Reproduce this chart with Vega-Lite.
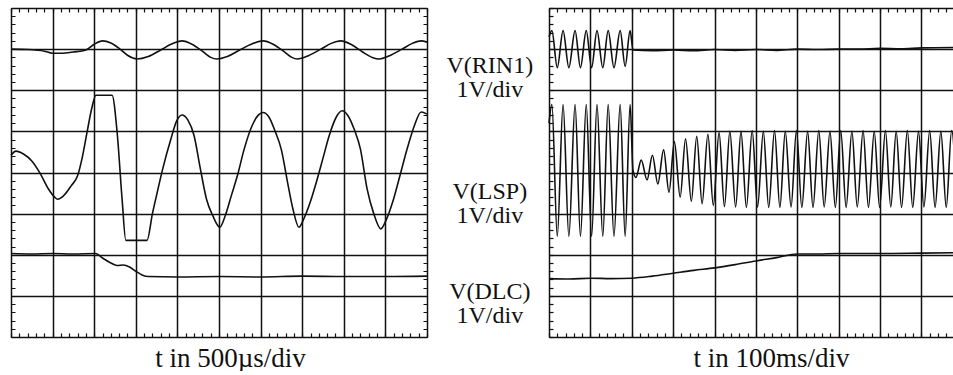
{
  "$schema": "https://vega.github.io/schema/vega-lite/v6.json",
  "usermeta": {"embedOptions": {"actions": false}},
  "background": "white",
  "padding": {"left": 7, "top": 8, "right": 0, "bottom": 0},
  "autosize": {"type": "pad"},
  "spacing": 122,
  "bounds": "flush",
  "config": {
    "view": {"stroke": null},
    "axis": {"labels": false, "ticks": false, "domain": false, "gridColor": "#111", "gridOpacity": 1, "gridWidth": 1.5, "title": null}
  },
  "datasets": {
    "left": [
      {"s": "RIN1", "x": 0, "y": 7.0}, {"s": "RIN1", "x": 0.4, "y": 6.99}, {"s": "RIN1", "x": 0.8, "y": 6.95}, {"s": "RIN1", "x": 1.0, "y": 6.9}, {"s": "RIN1", "x": 1.2, "y": 6.9}, {"s": "RIN1", "x": 1.5, "y": 6.93}, {"s": "RIN1", "x": 1.8, "y": 6.98}, {"s": "RIN1", "x": 2.0, "y": 7.12}, {"s": "RIN1", "x": 2.2, "y": 7.2}, {"s": "RIN1", "x": 2.4, "y": 7.15}, {"s": "RIN1", "x": 2.6, "y": 7.02}, {"s": "RIN1", "x": 2.8, "y": 6.85}, {"s": "RIN1", "x": 3.03, "y": 6.76}, {"s": "RIN1", "x": 3.3, "y": 6.82}, {"s": "RIN1", "x": 3.6, "y": 6.98}, {"s": "RIN1", "x": 3.9, "y": 7.14}, {"s": "RIN1", "x": 4.11, "y": 7.2}, {"s": "RIN1", "x": 4.35, "y": 7.12}, {"s": "RIN1", "x": 4.6, "y": 6.95}, {"s": "RIN1", "x": 4.8, "y": 6.8}, {"s": "RIN1", "x": 4.95, "y": 6.76}, {"s": "RIN1", "x": 5.2, "y": 6.82}, {"s": "RIN1", "x": 5.5, "y": 6.98}, {"s": "RIN1", "x": 5.8, "y": 7.13}, {"s": "RIN1", "x": 6.06, "y": 7.2}, {"s": "RIN1", "x": 6.3, "y": 7.12}, {"s": "RIN1", "x": 6.55, "y": 6.95}, {"s": "RIN1", "x": 6.75, "y": 6.8}, {"s": "RIN1", "x": 6.88, "y": 6.76}, {"s": "RIN1", "x": 7.15, "y": 6.84}, {"s": "RIN1", "x": 7.45, "y": 7.0}, {"s": "RIN1", "x": 7.7, "y": 7.14}, {"s": "RIN1", "x": 7.93, "y": 7.2}, {"s": "RIN1", "x": 8.2, "y": 7.1}, {"s": "RIN1", "x": 8.45, "y": 6.93}, {"s": "RIN1", "x": 8.7, "y": 6.79}, {"s": "RIN1", "x": 8.85, "y": 6.76}, {"s": "RIN1", "x": 9.1, "y": 6.84}, {"s": "RIN1", "x": 9.4, "y": 7.0}, {"s": "RIN1", "x": 9.65, "y": 7.14}, {"s": "RIN1", "x": 9.86, "y": 7.2}, {"s": "RIN1", "x": 10, "y": 7.17},
      {"s": "LSP", "x": 0.0, "y": 4.42}, {"s": "LSP", "x": 0.12, "y": 4.52}, {"s": "LSP", "x": 0.3, "y": 4.45}, {"s": "LSP", "x": 0.5, "y": 4.28}, {"s": "LSP", "x": 0.7, "y": 3.98}, {"s": "LSP", "x": 0.9, "y": 3.6}, {"s": "LSP", "x": 1.05, "y": 3.4}, {"s": "LSP", "x": 1.12, "y": 3.35}, {"s": "LSP", "x": 1.25, "y": 3.42}, {"s": "LSP", "x": 1.45, "y": 3.68}, {"s": "LSP", "x": 1.6, "y": 3.92}, {"s": "LSP", "x": 1.72, "y": 4.4}, {"s": "LSP", "x": 1.83, "y": 4.99}, {"s": "LSP", "x": 1.95, "y": 5.6}, {"s": "LSP", "x": 2.04, "y": 5.88}, {"s": "LSP", "x": 2.43, "y": 5.88}, {"s": "LSP", "x": 2.55, "y": 4.99}, {"s": "LSP", "x": 2.67, "y": 3.36}, {"s": "LSP", "x": 2.76, "y": 2.35}, {"s": "LSP", "x": 3.27, "y": 2.35}, {"s": "LSP", "x": 3.4, "y": 3.0}, {"s": "LSP", "x": 3.5, "y": 3.45}, {"s": "LSP", "x": 3.65, "y": 4.1}, {"s": "LSP", "x": 3.84, "y": 4.8}, {"s": "LSP", "x": 3.98, "y": 5.25}, {"s": "LSP", "x": 4.11, "y": 5.4}, {"s": "LSP", "x": 4.25, "y": 5.28}, {"s": "LSP", "x": 4.4, "y": 4.9}, {"s": "LSP", "x": 4.55, "y": 4.1}, {"s": "LSP", "x": 4.7, "y": 3.35}, {"s": "LSP", "x": 4.85, "y": 2.95}, {"s": "LSP", "x": 5.02, "y": 2.67}, {"s": "LSP", "x": 5.15, "y": 2.95}, {"s": "LSP", "x": 5.3, "y": 3.45}, {"s": "LSP", "x": 5.45, "y": 3.95}, {"s": "LSP", "x": 5.6, "y": 4.55}, {"s": "LSP", "x": 5.8, "y": 5.15}, {"s": "LSP", "x": 5.95, "y": 5.4}, {"s": "LSP", "x": 6.06, "y": 5.46}, {"s": "LSP", "x": 6.2, "y": 5.35}, {"s": "LSP", "x": 6.35, "y": 5.0}, {"s": "LSP", "x": 6.5, "y": 4.55}, {"s": "LSP", "x": 6.65, "y": 3.75}, {"s": "LSP", "x": 6.78, "y": 3.1}, {"s": "LSP", "x": 6.92, "y": 2.67}, {"s": "LSP", "x": 7.05, "y": 2.9}, {"s": "LSP", "x": 7.2, "y": 3.3}, {"s": "LSP", "x": 7.35, "y": 3.8}, {"s": "LSP", "x": 7.5, "y": 4.35}, {"s": "LSP", "x": 7.65, "y": 4.9}, {"s": "LSP", "x": 7.82, "y": 5.35}, {"s": "LSP", "x": 7.96, "y": 5.5}, {"s": "LSP", "x": 8.1, "y": 5.38}, {"s": "LSP", "x": 8.25, "y": 5.05}, {"s": "LSP", "x": 8.4, "y": 4.57}, {"s": "LSP", "x": 8.56, "y": 3.6}, {"s": "LSP", "x": 8.72, "y": 3.0}, {"s": "LSP", "x": 8.89, "y": 2.63}, {"s": "LSP", "x": 9.02, "y": 2.85}, {"s": "LSP", "x": 9.18, "y": 3.3}, {"s": "LSP", "x": 9.33, "y": 3.85}, {"s": "LSP", "x": 9.53, "y": 4.6}, {"s": "LSP", "x": 9.7, "y": 5.15}, {"s": "LSP", "x": 9.86, "y": 5.47}, {"s": "LSP", "x": 10.0, "y": 5.42},
      {"s": "DLC", "x": 0, "y": 2.03}, {"s": "DLC", "x": 0.5, "y": 2.02}, {"s": "DLC", "x": 1.0, "y": 2.03}, {"s": "DLC", "x": 1.5, "y": 2.02}, {"s": "DLC", "x": 2.04, "y": 2.03}, {"s": "DLC", "x": 2.2, "y": 1.92}, {"s": "DLC", "x": 2.4, "y": 1.8}, {"s": "DLC", "x": 2.55, "y": 1.74}, {"s": "DLC", "x": 2.7, "y": 1.75}, {"s": "DLC", "x": 2.85, "y": 1.7}, {"s": "DLC", "x": 3.0, "y": 1.6}, {"s": "DLC", "x": 3.15, "y": 1.51}, {"s": "DLC", "x": 3.3, "y": 1.47}, {"s": "DLC", "x": 4, "y": 1.46}, {"s": "DLC", "x": 5, "y": 1.47}, {"s": "DLC", "x": 6, "y": 1.46}, {"s": "DLC", "x": 7, "y": 1.48}, {"s": "DLC", "x": 8, "y": 1.47}, {"s": "DLC", "x": 9, "y": 1.47}, {"s": "DLC", "x": 10, "y": 1.48}
    ],
    "right": [
      {"s": "RIN1", "x": 0, "y": 7.3}, {"s": "RIN1", "x": 0.07, "y": 7.45}, {"s": "RIN1", "x": 0.2, "y": 6.55}, {"s": "RIN1", "x": 0.34, "y": 7.45}, {"s": "RIN1", "x": 0.48, "y": 6.55}, {"s": "RIN1", "x": 0.63, "y": 7.45}, {"s": "RIN1", "x": 0.76, "y": 6.55}, {"s": "RIN1", "x": 0.9, "y": 7.45}, {"s": "RIN1", "x": 1.03, "y": 6.55}, {"s": "RIN1", "x": 1.16, "y": 7.45}, {"s": "RIN1", "x": 1.3, "y": 6.55}, {"s": "RIN1", "x": 1.43, "y": 7.45}, {"s": "RIN1", "x": 1.57, "y": 6.55}, {"s": "RIN1", "x": 1.72, "y": 7.45}, {"s": "RIN1", "x": 1.84, "y": 6.58}, {"s": "RIN1", "x": 1.96, "y": 7.45}, {"s": "RIN1", "x": 2.03, "y": 6.98}, {"s": "RIN1", "x": 2.5, "y": 6.96}, {"s": "RIN1", "x": 3, "y": 6.98}, {"s": "RIN1", "x": 3.5, "y": 6.96}, {"s": "RIN1", "x": 4, "y": 6.99}, {"s": "RIN1", "x": 4.5, "y": 6.97}, {"s": "RIN1", "x": 5, "y": 6.99}, {"s": "RIN1", "x": 5.5, "y": 6.97}, {"s": "RIN1", "x": 6, "y": 7.0}, {"s": "RIN1", "x": 6.5, "y": 6.99}, {"s": "RIN1", "x": 7, "y": 7.0}, {"s": "RIN1", "x": 7.5, "y": 7.0}, {"s": "RIN1", "x": 8, "y": 7.02}, {"s": "RIN1", "x": 8.5, "y": 7.01}, {"s": "RIN1", "x": 9, "y": 7.03}, {"s": "RIN1", "x": 9.86, "y": 7.04},
      {"s": "LSP", "x": 0, "y": 5.2}, {"s": "LSP", "x": 0.07, "y": 5.65}, {"s": "LSP", "x": 0.2, "y": 2.45}, {"s": "LSP", "x": 0.34, "y": 5.65}, {"s": "LSP", "x": 0.48, "y": 2.45}, {"s": "LSP", "x": 0.63, "y": 5.65}, {"s": "LSP", "x": 0.76, "y": 2.45}, {"s": "LSP", "x": 0.9, "y": 5.65}, {"s": "LSP", "x": 1.03, "y": 2.45}, {"s": "LSP", "x": 1.16, "y": 5.65}, {"s": "LSP", "x": 1.3, "y": 2.45}, {"s": "LSP", "x": 1.43, "y": 5.65}, {"s": "LSP", "x": 1.57, "y": 2.45}, {"s": "LSP", "x": 1.72, "y": 5.65}, {"s": "LSP", "x": 1.84, "y": 2.45}, {"s": "LSP", "x": 1.96, "y": 5.65}, {"s": "LSP", "x": 2.03, "y": 4.05},
      {"s": "LSP", "x": 2.1, "y": 3.88}, {"s": "LSP", "x": 2.23, "y": 4.3}, {"s": "LSP", "x": 2.37, "y": 3.82}, {"s": "LSP", "x": 2.5, "y": 4.42}, {"s": "LSP", "x": 2.63, "y": 3.72}, {"s": "LSP", "x": 2.77, "y": 4.55}, {"s": "LSP", "x": 2.9, "y": 3.52}, {"s": "LSP", "x": 3.03, "y": 4.75}, {"s": "LSP", "x": 3.17, "y": 3.4}, {"s": "LSP", "x": 3.3, "y": 4.82}, {"s": "LSP", "x": 3.44, "y": 3.3}, {"s": "LSP", "x": 3.57, "y": 4.88}, {"s": "LSP", "x": 3.7, "y": 3.24}, {"s": "LSP", "x": 3.84, "y": 4.93}, {"s": "LSP", "x": 3.97, "y": 3.2}, {"s": "LSP", "x": 4.11, "y": 4.97}, {"s": "LSP", "x": 4.24, "y": 3.17}, {"s": "LSP", "x": 4.37, "y": 5.0}, {"s": "LSP", "x": 4.51, "y": 3.16}, {"s": "LSP", "x": 4.64, "y": 5.0}, {"s": "LSP", "x": 4.77, "y": 3.15}, {"s": "LSP", "x": 4.91, "y": 5.02}, {"s": "LSP", "x": 5.04, "y": 3.16}, {"s": "LSP", "x": 5.18, "y": 5.0}, {"s": "LSP", "x": 5.31, "y": 3.15}, {"s": "LSP", "x": 5.45, "y": 5.02}, {"s": "LSP", "x": 5.58, "y": 3.15}, {"s": "LSP", "x": 5.71, "y": 5.0}, {"s": "LSP", "x": 5.85, "y": 3.16}, {"s": "LSP", "x": 5.98, "y": 5.02}, {"s": "LSP", "x": 6.11, "y": 3.15}, {"s": "LSP", "x": 6.25, "y": 5.0}, {"s": "LSP", "x": 6.38, "y": 3.15}, {"s": "LSP", "x": 6.52, "y": 5.02}, {"s": "LSP", "x": 6.65, "y": 3.16}, {"s": "LSP", "x": 6.79, "y": 5.0}, {"s": "LSP", "x": 6.92, "y": 3.15}, {"s": "LSP", "x": 7.05, "y": 5.02}, {"s": "LSP", "x": 7.18, "y": 3.15}, {"s": "LSP", "x": 7.32, "y": 5.0}, {"s": "LSP", "x": 7.45, "y": 3.16}, {"s": "LSP", "x": 7.59, "y": 5.02}, {"s": "LSP", "x": 7.72, "y": 3.15}, {"s": "LSP", "x": 7.86, "y": 5.0}, {"s": "LSP", "x": 7.99, "y": 3.15}, {"s": "LSP", "x": 8.13, "y": 5.02}, {"s": "LSP", "x": 8.26, "y": 3.16}, {"s": "LSP", "x": 8.39, "y": 5.0}, {"s": "LSP", "x": 8.52, "y": 3.15}, {"s": "LSP", "x": 8.66, "y": 5.02}, {"s": "LSP", "x": 8.79, "y": 3.15}, {"s": "LSP", "x": 8.93, "y": 5.0}, {"s": "LSP", "x": 9.06, "y": 3.16}, {"s": "LSP", "x": 9.2, "y": 5.02}, {"s": "LSP", "x": 9.33, "y": 3.15}, {"s": "LSP", "x": 9.47, "y": 5.0}, {"s": "LSP", "x": 9.6, "y": 3.15}, {"s": "LSP", "x": 9.73, "y": 5.02}, {"s": "LSP", "x": 9.86, "y": 3.2},
      {"s": "DLC", "x": 0, "y": 1.42}, {"s": "DLC", "x": 0.5, "y": 1.41}, {"s": "DLC", "x": 1.0, "y": 1.43}, {"s": "DLC", "x": 1.5, "y": 1.42}, {"s": "DLC", "x": 2.0, "y": 1.43}, {"s": "DLC", "x": 2.5, "y": 1.48}, {"s": "DLC", "x": 3.0, "y": 1.55}, {"s": "DLC", "x": 3.5, "y": 1.62}, {"s": "DLC", "x": 4.0, "y": 1.68}, {"s": "DLC", "x": 4.5, "y": 1.76}, {"s": "DLC", "x": 5.0, "y": 1.85}, {"s": "DLC", "x": 5.5, "y": 1.93}, {"s": "DLC", "x": 6.0, "y": 2.02}, {"s": "DLC", "x": 6.5, "y": 2.02}, {"s": "DLC", "x": 7, "y": 2.03}, {"s": "DLC", "x": 8, "y": 2.03}, {"s": "DLC", "x": 9, "y": 2.04}, {"s": "DLC", "x": 9.86, "y": 2.05}
    ],
    "labels": [
      {"t": "V(RIN1)\n1V/div", "x": -1.43, "y": 6.42},
      {"t": "V(LSP)\n1V/div", "x": -1.43, "y": 3.36},
      {"t": "V(DLC)\n1V/div", "x": -1.43, "y": 0.92}
    ]
  },
  "hconcat": [
    {
      "width": 416,
      "height": 329,
      "resolve": {"axis": {"x": "independent", "y": "independent"}},
      "layer": [
        {
          "data": {"name": "left"},
          "mark": {"type": "line", "interpolate": "monotone", "color": "#111", "strokeWidth": 1.6},
          "encoding": {
            "x": {"field": "x", "type": "quantitative", "scale": {"domain": [0, 10], "nice": false, "zero": false},
                  "axis": {"orient": "bottom", "values": [0,1,2,3,4,5,6,7,8,9,10], "grid": true, "title": "t in 500µs/div",
                           "titleFont": "Liberation Serif", "titleFontSize": 27, "titleFontWeight": "normal", "titleColor": "#111",
                           "titleBaseline": "alphabetic", "titlePadding": 29, "titleX": 219, "titleAlign": "center"}},
            "y": {"field": "y", "type": "quantitative", "scale": {"domain": [0, 8], "nice": false, "zero": false},
                  "axis": {"orient": "right", "values": [0,1,2,3,4,5,6,7,8], "grid": true}},
            "detail": {"field": "s", "type": "nominal"}
          }
        },
        {
          "data": {"name": "left"},
          "mark": {"type": "point", "opacity": 0},
          "encoding": {
            "x": {"field": "x", "type": "quantitative", "scale": {"domain": [0, 10], "nice": false, "zero": false},
                  "axis": {"orient": "top", "grid": true, "gridDash": [4, 321], "gridWidth": 1.2,
                           "values": [0,0.2,0.4,0.6,0.8,1,1.2,1.4,1.6,1.8,2,2.2,2.4,2.6,2.8,3,3.2,3.4,3.6,3.8,4,4.2,4.4,4.6,4.8,5,5.2,5.4,5.6,5.8,6,6.2,6.4,6.6,6.8,7,7.2,7.4,7.6,7.8,8,8.2,8.4,8.6,8.8,9,9.2,9.4,9.6,9.8,10]}},
            "y": {"field": "y", "type": "quantitative", "scale": {"domain": [0, 8], "nice": false, "zero": false},
                  "axis": {"orient": "left", "grid": true, "gridDash": [4, 408], "gridWidth": 1.2,
                           "values": [0,0.2,0.4,0.6,0.8,1,1.2,1.4,1.6,1.8,2,2.2,2.4,2.6,2.8,3,3.2,3.4,3.6,3.8,4,4.2,4.4,4.6,4.8,5,5.2,5.4,5.6,5.8,6,6.2,6.4,6.6,6.8,7,7.2,7.4,7.6,7.8,8]}}
          }
        }
      ]
    },
    {
      "width": 408,
      "height": 329,
      "resolve": {"axis": {"x": "independent", "y": "independent"}},
      "layer": [
        {
          "data": {"name": "right"},
          "mark": {"type": "line", "interpolate": "monotone", "color": "#111", "strokeWidth": 1.6},
          "encoding": {
            "x": {"field": "x", "type": "quantitative", "scale": {"domain": [0, 9.86], "nice": false, "zero": false},
                  "axis": {"orient": "bottom", "values": [0,1,2,3,4,5,6,7,8,9], "grid": true, "title": "t in 100ms/div",
                           "titleFont": "Liberation Serif", "titleFontSize": 27, "titleFontWeight": "normal", "titleColor": "#111",
                           "titleBaseline": "alphabetic", "titlePadding": 29, "titleX": 222, "titleAlign": "center"}},
            "y": {"field": "y", "type": "quantitative", "scale": {"domain": [0, 8], "nice": false, "zero": false},
                  "axis": {"orient": "right", "values": [0,1,2,3,4,5,6,7,8], "grid": true}},
            "detail": {"field": "s", "type": "nominal"}
          }
        },
        {
          "data": {"name": "labels"},
          "mark": {"type": "text", "font": "Liberation Serif", "fontSize": 24, "lineBreak": "\n", "lineHeight": 24, "align": "center", "baseline": "alphabetic", "color": "#111"},
          "encoding": {
            "x": {"field": "x", "type": "quantitative", "scale": {"domain": [0, 9.86], "nice": false, "zero": false},
                  "axis": {"orient": "top", "grid": true, "gridDash": [4, 321], "gridWidth": 1.2,
                           "values": [0,0.2,0.4,0.6,0.8,1,1.2,1.4,1.6,1.8,2,2.2,2.4,2.6,2.8,3,3.2,3.4,3.6,3.8,4,4.2,4.4,4.6,4.8,5,5.2,5.4,5.6,5.8,6,6.2,6.4,6.6,6.8,7,7.2,7.4,7.6,7.8,8,8.2,8.4,8.6,8.8,9,9.2,9.4,9.6,9.8]}},
            "y": {"field": "y", "type": "quantitative", "scale": {"domain": [0, 8], "nice": false, "zero": false},
                  "axis": {"orient": "left", "grid": true, "gridDash": [4, 1000], "gridWidth": 1.2,
                           "values": [0,0.2,0.4,0.6,0.8,1,1.2,1.4,1.6,1.8,2,2.2,2.4,2.6,2.8,3,3.2,3.4,3.6,3.8,4,4.2,4.4,4.6,4.8,5,5.2,5.4,5.6,5.8,6,6.2,6.4,6.6,6.8,7,7.2,7.4,7.6,7.8,8]}},
            "text": {"field": "t", "type": "nominal"}
          }
        }
      ]
    }
  ]
}
